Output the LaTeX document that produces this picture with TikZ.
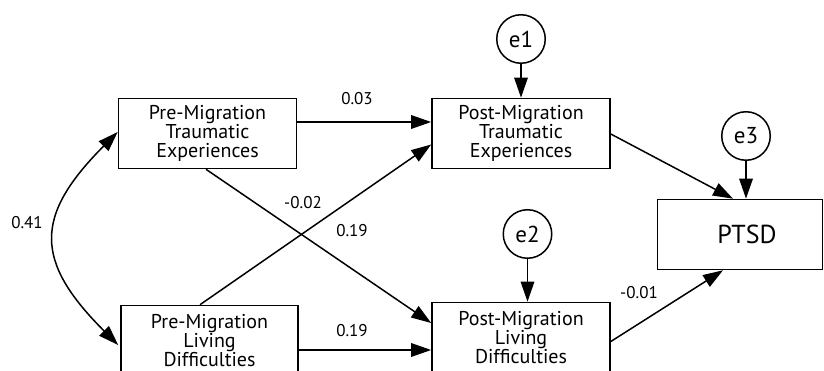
\documentclass[tikz,border=0pt]{standalone}
\usepackage{fontspec}
\setmainfont{PT Sans}
\usetikzlibrary{arrows.meta,calc}
\begin{document}
\begin{tikzpicture}[x=1pt,y=-1pt,
  box/.style={draw, line width=1.6pt, rectangle, inner sep=0pt, minimum width=178pt, minimum height=70pt, align=center, font=\fontsize{20}{19}\selectfont},
  err/.style={draw, circle, line width=1.5pt, minimum size=48.5pt, inner sep=0pt, font=\fontsize{23}{23}\selectfont},
  lab/.style={font=\fontsize{17}{17}\selectfont, inner sep=0pt},
  tip/.style={Triangle[length=20pt,width=13.5pt]},
  arr/.style={line width=1.5pt, -{Triangle[length=20pt,width=13.5pt]}},
  biarr/.style={line width=1.5pt, {Triangle[length=20pt,width=13.5pt]}-{Triangle[length=20pt,width=13.5pt]}}
]
\useasboundingbox (0,0) rectangle (824,371);
\clip (0,0) rectangle (824,371);
% boxes
\node[box] (pmt) at (207.5,133.5) {Pre-Migration\\Traumatic\\Experiences};
\node[box, minimum width=177pt] (pml) at (209.5,340.5) {Pre-Migration\\Living\\Difficulties};
\node[box] (postt) at (521,133.5) {Post-Migration\\Traumatic\\Experiences};
\node[box] (postl) at (521,337.5) {Post-Migration\\Living\\Difficulties};
\node[box, minimum width=165pt, font=\fontsize{26}{26}\selectfont] (ptsd) at (740,234.5) {\hspace*{14pt}PTSD};
% error terms
\node[err] (e1) at (521,39) {e1};
\node[err] (e2) at (527.5,234) {e2};
\node[err] (e3) at (746,136) {e3};
% paths
\draw[arr] ($(pmt.east)+(0,-11.5)$) -- ($(postt.west)+(0,-11.5)$);
\draw[arr] ($(pmt.south)+(-1.5,0)$) -- ($(postl.west)+(0,-14.5)$);
\draw[arr] ($(pml.north)+(-9.5,0)$) -- ($(postt.west)+(0,11)$);
\draw[arr] ($(pml.east)+(0,9.5)$) -- ($(postl.west)+(0,12.5)$);
\draw[arr] ($(postt.east)+(0,0.5)$) -- ($(ptsd.north)+(-7,0)$);
\draw[arr] ($(postl.east)+(0,4)$) -- ($(ptsd.south)+(-17,0)$);
\draw[arr] (e1.south) -- (e1.south |- postt.north);
\draw[arr] (e2.south) -- (e2.south |- postl.north);
\draw[arr] (e3.south) -- (e3.south |- ptsd.north);
\draw[biarr] ($(pmt.west)+(0,-1.5)$) .. controls (34,216) and (34,261) .. ($(pml.west)+(-2,4.5)$);
% labels
\node[lab] (l1) at (357,99) {0.03};
\node[lab] (l2) at (303,203) {-0.02};
\node[lab] (l3) at (352,230.5) {0.19};
\node[lab] (l4) at (352,331) {0.19};
\node[lab] (l5) at (639,292.5) {-0.01};
\node[lab] (l6) at (27,223) {0.41};
\end{tikzpicture}
\end{document}
